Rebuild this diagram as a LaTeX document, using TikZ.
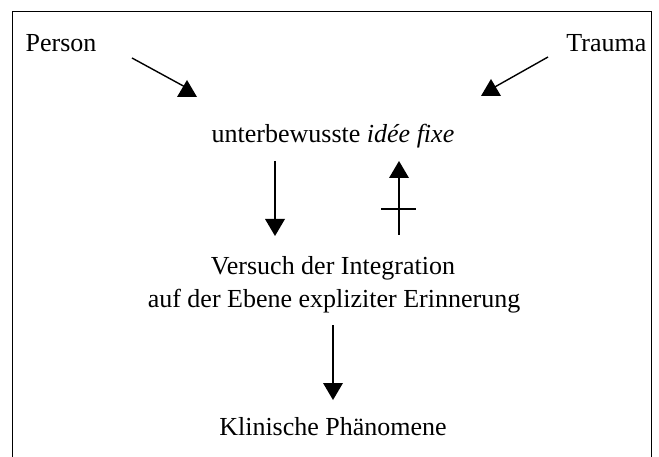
\documentclass[tikz,border=0pt]{standalone}
\usepackage{fontspec}
\setmainfont{Liberation Serif}
\begin{document}
\begin{tikzpicture}[x=1pt,y=-1pt,line width=1.4pt,
  lbl/.style={inner sep=0pt,font=\fontsize{26}{31}\selectfont},
  headup/.pic={\fill (-10,0) -- (10,0) -- (0,-17) -- cycle;},
  headdown/.pic={\fill (-10,0) -- (10,0) -- (0,17) -- cycle;}]
\useasboundingbox (0,0) rectangle (659,457);
\draw[line width=1pt] (12,457) -- (12,12) -- (651,12) -- (651,457);
% texts
\node[lbl,anchor=base west] (person) at (25,52) {Person};
\node[lbl,anchor=base east] (trauma) at (647,52) {Trauma};
\node[lbl,anchor=base] (idee) at (333,143) {unterbewusste \textit{idée fixe}};
\node[lbl,anchor=base] (vers1) at (333,275) {Versuch der Integration};
\node[lbl,anchor=base] (vers2) at (334,307) {auf der Ebene expliziter Erinnerung};
\node[lbl,anchor=base] (klin) at (333,435) {Klinische Phänomene};
% connector end points
\coordinate (pA) at (132,58);  \coordinate (pB) at (187,88);
\coordinate (tA) at (548,57);  \coordinate (tB) at (493,88);
\coordinate (dA) at (275,161); \coordinate (dB) at (275,221);
\coordinate (uA) at (399,235); \coordinate (uB) at (399,177);
\coordinate (kA) at (333,325); \coordinate (kB) at (333,385);
% connectors
\draw (pA) -- (pB);
\pic at (187,97) {headup};
\draw (tA) -- (tB);
\pic at (491,96) {headup};
\draw (dA) -- (dB);
\pic at (275,219) {headdown};
\draw (uA) -- (uB);
\pic at (399,178) {headup};
\draw (381,209) -- (416,209);
\draw (kA) -- (kB);
\pic at (333,383) {headdown};
\end{tikzpicture}
\end{document}
